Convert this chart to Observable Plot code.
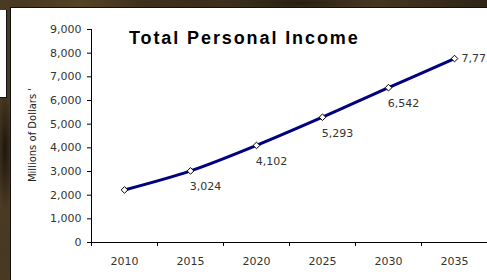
<!DOCTYPE html>
<html>
<head>
<meta charset="utf-8">
<script src="https://cdn.jsdelivr.net/npm/d3@7"></script>
<script src="https://cdn.jsdelivr.net/npm/@observablehq/plot@0.6"></script>
<style>
  html, body { margin: 0; padding: 0; width: 487px; height: 280px; overflow: hidden; }
  body {
    position: relative;
    background:
      radial-gradient(ellipse 60px 20px at 80px 4px, rgba(90,70,40,0.8), transparent),
      radial-gradient(ellipse 80px 10px at 300px 3px, rgba(30,22,12,0.8), transparent),
      radial-gradient(ellipse 8px 60px at 5px 150px, rgba(25,18,10,0.9), transparent),
      radial-gradient(ellipse 8px 40px at 5px 250px, rgba(70,55,35,0.8), transparent),
      linear-gradient(90deg, #4a3a24, #3a2d1b 40%, #4d3c26 70%, #2f2416);
  }
  #panel { position: absolute; left: 10px; top: 7px; width: 477px; height: 273px; background: #fff;
           border-left: 1px solid #111; border-top: 1px solid #111; box-sizing: border-box; }
  #sidebox { position: absolute; left: 0; top: 10px; width: 7px; height: 88px; background: #fff;
             border-right: 1px solid #111; border-bottom: 1px solid #111; box-sizing: border-box; }
  #chart { position: absolute; left: 0; top: 0; }
  #title { position: absolute; left: 129px; top: 29px; font-family: "Liberation Sans", Arial, sans-serif;
           font-weight: bold; font-size: 18px; line-height: 18px; letter-spacing: 1.9px; color: #000; white-space: nowrap; }
  #ylabel { position: absolute; left: 32px; top: 135px; transform: translate(-50%, -50%) rotate(-90deg);
            font-family: "DejaVu Sans", Verdana, sans-serif; font-size: 10px; color: #222; white-space: nowrap; }
</style>
</head>
<body>
<div id="panel"></div>
<div id="sidebox"></div>
<div id="chart"></div>
<div id="title">Total Personal Income</div>
<div id="ylabel">Millions of Dollars &#39;</div>
<script>
const years = [2010, 2015, 2020, 2025, 2030, 2035];
const income = [2220, 3024, 4102, 5293, 6542, 7772];
const labelled = [false, true, true, true, true, true];
const yTicks = [0, 1000, 2000, 3000, 4000, 5000, 6000, 7000, 8000, 9000];

const data = years.map((year, i) => ({year, value: income[i], labelled: labelled[i], last: i === years.length - 1}));
const bounds = years.map(y => y - 2.5).concat([years[years.length - 1] + 2.5]);
const fmt = d3.format(",");
const font = '"DejaVu Sans", Verdana, sans-serif';

const plot = Plot.plot({
  width: 487,
  height: 280,
  marginLeft: 91,
  marginRight: 0,
  marginTop: 29,
  marginBottom: 38,
  style: {background: "transparent", overflow: "visible", fontFamily: font, fontSize: "11px", color: "#333"},
  x: {domain: [bounds[0], bounds[bounds.length - 1]]},
  y: {domain: [0, 9000]},
  marks: [
    Plot.axisY({ticks: yTicks, tickFormat: fmt, tickSize: 4, tickPadding: 6, label: null, fontSize: 11, stroke: "#000", color: "#333"}),
    Plot.axisX({ticks: bounds, tickFormat: () => "", tickSize: 4, label: null, stroke: "#000"}),
    Plot.axisX({ticks: years, tickFormat: d => String(d), tickSize: 0, tickPadding: 15, label: null, fontSize: 11, fill: "#333"}),
    Plot.ruleX([bounds[0]], {y1: 0, y2: 9000, stroke: "#000", strokeWidth: 1}),
    Plot.ruleY([0], {stroke: "#000", strokeWidth: 1}),
    Plot.line(data, {x: "year", y: "value", stroke: "#000080", strokeWidth: 3, curve: "catmull-rom"}),
    Plot.dot(data, {x: "year", y: "value", symbol: "diamond2", r: 3, fill: "#fff", stroke: "#000", strokeWidth: 1}),
    Plot.text(data.filter(d => d.labelled && !d.last), {x: "year", y: "value", text: d => fmt(d.value), dx: 15, dy: 16, fill: "#333", fontSize: 11, fontFamily: font}),
    Plot.text(data.filter(d => d.last), {x: "year", y: "value", text: d => fmt(d.value), dx: 7, textAnchor: "start", fill: "#333", fontSize: 11, fontFamily: font})
  ]
});
document.getElementById("chart").appendChild(plot);
</script>
</body>
</html>
